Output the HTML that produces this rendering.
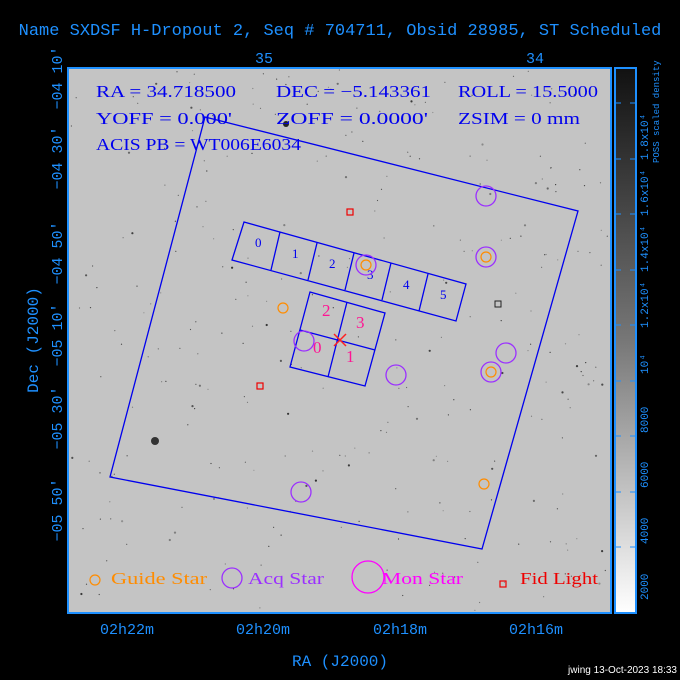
<!DOCTYPE html>
<html><head><meta charset="utf-8"><style>
html,body{margin:0;padding:0;background:#000;width:680px;height:680px;overflow:hidden}
svg{display:block}
</style></head><body>
<svg id="s" width="680" height="680" xmlns="http://www.w3.org/2000/svg">
<defs><linearGradient id="cb" x1="0" y1="0" x2="0" y2="1"><stop offset="0" stop-color="#111"/><stop offset="0.5" stop-color="#777"/><stop offset="1" stop-color="#fff"/></linearGradient></defs>
<rect width="680" height="680" fill="#000"/>
<text x="340" y="35" fill="#1e90ff" font-size="17" text-anchor="middle" font-family="Liberation Mono">Name SXDSF H-Dropout 2, Seq # 704711, Obsid 28985, ST Scheduled</text>
<rect x="68" y="68" width="543" height="545" fill="#c4c4c4"/>
<g id="dots" fill="#222"></g>
<circle cx="155" cy="441" r="4" fill="#333"/><circle cx="286" cy="124" r="3" fill="#222"/>
<rect x="68" y="68" width="543" height="545" fill="none" stroke="#1e90ff" stroke-width="2"/>
<rect x="615" y="68" width="21" height="545" fill="url(#cb)" stroke="#1e90ff" stroke-width="2"/>
<g stroke="#1e90ff" stroke-width="1"><path d="M616,547h5M630,547h5M616,492h5M630,492h5M616,436h5M630,436h5M616,381h5M630,381h5M616,325h5M630,325h5M616,270h5M630,270h5M616,214h5M630,214h5M616,159h5M630,159h5M616,103h5M630,103h5"/></g>
<g fill="#1e90ff" font-size="11" font-family="Liberation Mono">
<text transform="translate(648,600) rotate(-90)">2000</text>
<text transform="translate(648,544) rotate(-90)">4000</text>
<text transform="translate(648,488) rotate(-90)">6000</text>
<text transform="translate(648,433) rotate(-90)">8000</text>
<text transform="translate(648,374) rotate(-90)">10⁴</text>
<text transform="translate(648,328) rotate(-90)">1.2x10⁴</text>
<text transform="translate(648,272) rotate(-90)">1.4x10⁴</text>
<text transform="translate(648,216) rotate(-90)">1.6x10⁴</text>
<text transform="translate(648,160) rotate(-90)">1.8x10⁴</text>
<text transform="translate(659,163) rotate(-90)" font-size="9">POSS scaled density</text>
</g>
<g fill="#1e90ff" font-size="15" font-family="Liberation Mono">
<text x="264" y="63" text-anchor="middle">35</text>
<text x="535" y="63" text-anchor="middle">34</text>
<text x="127" y="634" text-anchor="middle">02h22m</text>
<text x="263" y="634" text-anchor="middle">02h20m</text>
<text x="400" y="634" text-anchor="middle">02h18m</text>
<text x="536" y="634" text-anchor="middle">02h16m</text>
<text x="340" y="666" text-anchor="middle" font-size="16">RA (J2000)</text>
<text transform="translate(38,340) rotate(-90)" text-anchor="middle" font-size="16">Dec (J2000)</text>
<text transform="translate(62,78) rotate(-90)" text-anchor="middle">−04 10'</text>
<text transform="translate(62,158) rotate(-90)" text-anchor="middle">−04 30'</text>
<text transform="translate(62,253) rotate(-90)" text-anchor="middle">−04 50'</text>
<text transform="translate(62,335) rotate(-90)" text-anchor="middle">−05 10'</text>
<text transform="translate(62,418) rotate(-90)" text-anchor="middle">−05 30'</text>
<text transform="translate(62,510) rotate(-90)" text-anchor="middle">−05 50'</text>
</g>
<g fill="#0000ee" font-size="17" font-family="Liberation Serif" lengthAdjust="spacingAndGlyphs">
<text x="96" y="97" textLength="140" lengthAdjust="spacingAndGlyphs">RA = 34.718500</text>
<text x="276" y="97" textLength="155" lengthAdjust="spacingAndGlyphs">DEC = −5.143361</text>
<text x="458" y="97" textLength="140" lengthAdjust="spacingAndGlyphs">ROLL = 15.5000</text>
<text x="96" y="124" textLength="136" lengthAdjust="spacingAndGlyphs">YOFF =    0.000'</text>
<text x="276" y="124" textLength="152" lengthAdjust="spacingAndGlyphs">ZOFF =  0.0000'</text>
<text x="458" y="124" textLength="122" lengthAdjust="spacingAndGlyphs">ZSIM = 0 mm</text>
<text x="96" y="150" textLength="205" lengthAdjust="spacingAndGlyphs">ACIS PB = WT006E6034</text>
</g>
<g fill="none" stroke="#0000ee" stroke-width="1.3">
<polygon points="205,117 578,211 482,549 110,477"/>
<polygon points="244,222 466,284 456,321 232,260"/>
<line x1="280" y1="232" x2="271" y2="270"/><line x1="317" y1="243" x2="308" y2="280"/><line x1="354" y1="253" x2="345" y2="290"/><line x1="391" y1="263" x2="382" y2="300"/><line x1="428" y1="274" x2="419" y2="311"/>
<polygon points="310,292 385,313 365,386 290,367"/>
<line x1="347" y1="302" x2="328" y2="377"/><line x1="300" y1="330" x2="375" y2="350"/>
</g>
<g fill="#0000ee" font-size="13" font-family="Liberation Serif"><text x="255" y="247">0</text><text x="292" y="258">1</text><text x="329" y="268">2</text><text x="367" y="279">3</text><text x="403" y="289">4</text><text x="440" y="299">5</text></g>
<g fill="#ff1493" font-size="17" font-family="Liberation Serif"><text x="322" y="316">2</text><text x="356" y="328">3</text><text x="313" y="353">0</text><text x="346" y="362">1</text></g>
<g stroke="#ff2020" stroke-width="1.5"><line x1="334" y1="334" x2="346" y2="346"/><line x1="334" y1="346" x2="346" y2="334"/></g>
<g fill="none" stroke="#9b30ff" stroke-width="1.3">
<circle cx="486" cy="196" r="10"/><circle cx="486" cy="257" r="10"/><circle cx="366" cy="265" r="10"/><circle cx="304" cy="341" r="10"/><circle cx="396" cy="375" r="10"/><circle cx="506" cy="353" r="10"/><circle cx="491" cy="372" r="10"/><circle cx="301" cy="492" r="10"/>
<circle cx="232" cy="578" r="10"/><circle cx="368" cy="577" r="16" stroke="#ff00ff"/>
</g>
<g fill="none" stroke="#ff8c00" stroke-width="1.2">
<circle cx="486" cy="257" r="5"/><circle cx="366" cy="265" r="5"/><circle cx="283" cy="308" r="5"/><circle cx="491" cy="372" r="5"/><circle cx="484" cy="484" r="5"/><circle cx="95" cy="580" r="5"/>
</g>
<g fill="none" stroke="#ee0000" stroke-width="1.2"><rect x="347" y="209" width="6" height="6"/><rect x="257" y="383" width="6" height="6"/><rect x="500" y="581" width="6" height="6"/></g>
<rect x="495" y="301" width="6" height="6" fill="none" stroke="#222"/>
<g font-size="17" font-family="Liberation Serif">
<text x="111" y="584" fill="#ff8c00" textLength="96" lengthAdjust="spacingAndGlyphs">Guide Star</text>
<text x="248" y="584" fill="#9b30ff" textLength="76" lengthAdjust="spacingAndGlyphs">Acq Star</text>
<text x="382" y="584" fill="#ff00ff" textLength="81" lengthAdjust="spacingAndGlyphs">Mon Star</text>
<text x="520" y="584" fill="#ee0000" textLength="78" lengthAdjust="spacingAndGlyphs">Fid Light</text></g>
<text x="677" y="673" fill="#fff" font-size="10" text-anchor="end" font-family="Liberation Sans">jwing 13-Oct-2023 18:33</text>
</svg>
<script>
var g=document.getElementById('dots'),s=12345;function r(){s=(s*16807)%2147483647;return s/2147483647;}
var h='';for(var i=0;i<300;i++){var x=70+r()*539,y=70+r()*541,z=r()<0.85?0.6:1.1;h+='<circle cx="'+x.toFixed(1)+'" cy="'+y.toFixed(1)+'" r="'+z+'" fill-opacity="'+(0.3+r()*0.6).toFixed(2)+'"/>';}
g.innerHTML=h;
</script>
</body></html>
